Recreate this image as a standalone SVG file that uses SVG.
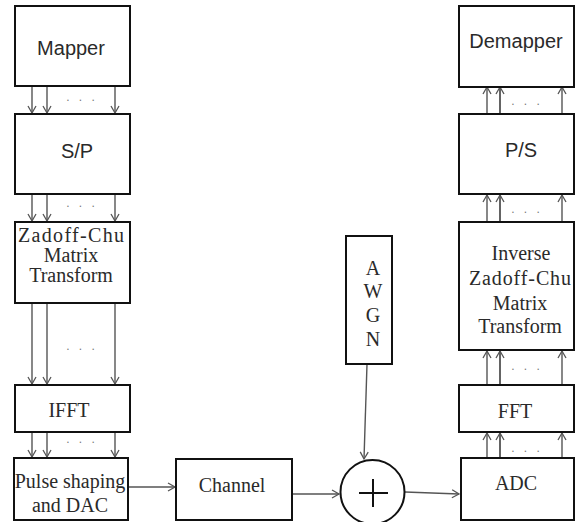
<svg xmlns="http://www.w3.org/2000/svg" width="575" height="522" viewBox="0 0 575 522">
<defs>
<style>
.box{fill:#fff;stroke:#111;stroke-width:2}
.ln{stroke:#555;stroke-width:1.4;fill:none}
.dk{stroke:#222}
.sans{font-family:"Liberation Sans",Arial,sans-serif;font-size:20px;fill:#2a2a2a;text-anchor:middle}
.serif{font-family:"Liberation Serif","Times New Roman",serif;font-size:20px;fill:#2a2a2a;text-anchor:middle}
.dots{font-family:"Liberation Sans",Arial,sans-serif;font-size:12px;fill:#777;text-anchor:middle;letter-spacing:3px}
</style>
<marker id="ah" markerWidth="10" markerHeight="10" refX="8" refY="5" orient="auto" markerUnits="userSpaceOnUse">
<path d="M1,1 L8,5 L1,9" fill="none" stroke="#555" stroke-width="1.3"/>
</marker>
</defs>
<rect width="575" height="522" fill="#fff"/>

<g id="connectors">
<line class="ln" x1="32" y1="86" x2="32" y2="113" marker-end="url(#ah)"/>
<line class="ln" x1="47" y1="86" x2="47" y2="113" marker-end="url(#ah)"/>
<line class="ln" x1="115" y1="86" x2="115" y2="113" marker-end="url(#ah)"/>
<line class="ln" x1="32" y1="194" x2="32" y2="221" marker-end="url(#ah)"/>
<line class="ln" x1="47" y1="194" x2="47" y2="221" marker-end="url(#ah)"/>
<line class="ln" x1="115" y1="194" x2="115" y2="221" marker-end="url(#ah)"/>
<line class="ln" x1="32" y1="303" x2="32" y2="384" marker-end="url(#ah)"/>
<line class="ln" x1="47" y1="303" x2="47" y2="384" marker-end="url(#ah)"/>
<line class="ln" x1="115" y1="303" x2="115" y2="384" marker-end="url(#ah)"/>
<line class="ln" x1="32" y1="432" x2="32" y2="457" marker-end="url(#ah)"/>
<line class="ln" x1="47" y1="432" x2="47" y2="457" marker-end="url(#ah)"/>
<line class="ln" x1="115" y1="432" x2="115" y2="457" marker-end="url(#ah)"/>
<line class="ln" x1="128" y1="487" x2="175" y2="487" marker-end="url(#ah)"/>
<line class="ln" x1="292" y1="494" x2="339" y2="494" marker-end="url(#ah)"/>
<line class="ln" x1="367" y1="364" x2="364" y2="459" marker-end="url(#ah)"/>
<line class="ln" x1="405" y1="492" x2="459" y2="494" marker-end="url(#ah)"/>
<line class="ln" x1="487" y1="458" x2="487" y2="433" marker-end="url(#ah)"/>
<line class="ln dk" x1="500" y1="458" x2="500" y2="433" marker-end="url(#ah)"/>
<line class="ln" x1="562" y1="458" x2="562" y2="433" marker-end="url(#ah)"/>
<line class="ln" x1="487" y1="385" x2="487" y2="351" marker-end="url(#ah)"/>
<line class="ln dk" x1="500" y1="385" x2="500" y2="351" marker-end="url(#ah)"/>
<line class="ln" x1="562" y1="385" x2="562" y2="351" marker-end="url(#ah)"/>
<line class="ln" x1="487" y1="222" x2="487" y2="195" marker-end="url(#ah)"/>
<line class="ln dk" x1="500" y1="222" x2="500" y2="195" marker-end="url(#ah)"/>
<line class="ln" x1="562" y1="222" x2="562" y2="195" marker-end="url(#ah)"/>
<line class="ln" x1="487" y1="114" x2="487" y2="87" marker-end="url(#ah)"/>
<line class="ln dk" x1="500" y1="114" x2="500" y2="87" marker-end="url(#ah)"/>
<line class="ln" x1="562" y1="114" x2="562" y2="87" marker-end="url(#ah)"/>
<text class="dots" x="82" y="101">. . .</text>
<text class="dots" x="82" y="207">. . .</text>
<text class="dots" x="82" y="350">. . .</text>
<text class="dots" x="82" y="443">. . .</text>
<text class="dots" x="527" y="105">. . .</text>
<text class="dots" x="527" y="213">. . .</text>
<text class="dots" x="527" y="370">. . .</text>
<text class="dots" x="527" y="452">. . .</text>
</g>

<g id="mapper">
<rect class="box" x="15" y="6" width="115" height="80"/>
<text class="sans" x="71" y="55">Mapper</text>
</g>
<g id="sp">
<rect class="box" x="15" y="114" width="115" height="80"/>
<text class="sans" x="77" y="158">S/P</text>
</g>
<g id="zc">
<rect class="box" x="15" y="222" width="115" height="81"/>
<text class="serif" x="71" y="242" textLength="106" lengthAdjust="spacing">Zadoff-Chu</text>
<text class="serif" x="71" y="262">Matrix</text>
<text class="serif" x="71" y="282">Transform</text>
</g>
<g id="ifft">
<rect class="box" x="15" y="385" width="115" height="47"/>
<text class="serif" x="69" y="417">IFFT</text>
</g>
<g id="pulse">
<rect class="box" x="14" y="458" width="114" height="62"/>
<text class="serif" x="70" y="488">Pulse shaping</text>
<text class="serif" x="70" y="512">and DAC</text>
</g>
<g id="channel">
<rect class="box" x="176" y="459" width="116" height="61"/>
<text class="serif" x="232" y="492">Channel</text>
</g>
<g id="awgn">
<rect class="box" x="346" y="236" width="46" height="128"/>
<text class="serif" x="373" y="275">A</text>
<text class="serif" x="373" y="298">W</text>
<text class="serif" x="373" y="322">G</text>
<text class="serif" x="373" y="346">N</text>
</g>
<g id="sum">
<circle cx="372.5" cy="492" r="32" fill="#fff" stroke="#111" stroke-width="2"/>
<line x1="359" y1="493" x2="388" y2="493" stroke="#111" stroke-width="2"/>
<line x1="373" y1="479" x2="373" y2="507" stroke="#111" stroke-width="2"/>
</g>
<g id="adc">
<rect class="box" x="461" y="458" width="113" height="62"/>
<text class="serif" x="516" y="490">ADC</text>
</g>
<g id="fft">
<rect class="box" x="459" y="385" width="115" height="47"/>
<text class="serif" x="515" y="418">FFT</text>
</g>
<g id="izc">
<rect class="box" x="459" y="222" width="115" height="128"/>
<text class="serif" x="521" y="260">Inverse</text>
<text class="serif" x="520" y="285" textLength="102" lengthAdjust="spacing">Zadoff-Chu</text>
<text class="serif" x="520" y="310">Matrix</text>
<text class="serif" x="520" y="333">Transform</text>
</g>
<g id="ps">
<rect class="box" x="459" y="114" width="115" height="80"/>
<text class="sans" x="521" y="157">P/S</text>
</g>
<g id="demapper">
<rect class="box" x="459" y="6" width="115" height="81"/>
<text class="sans" x="516" y="48">Demapper</text>
</g>
</svg>
